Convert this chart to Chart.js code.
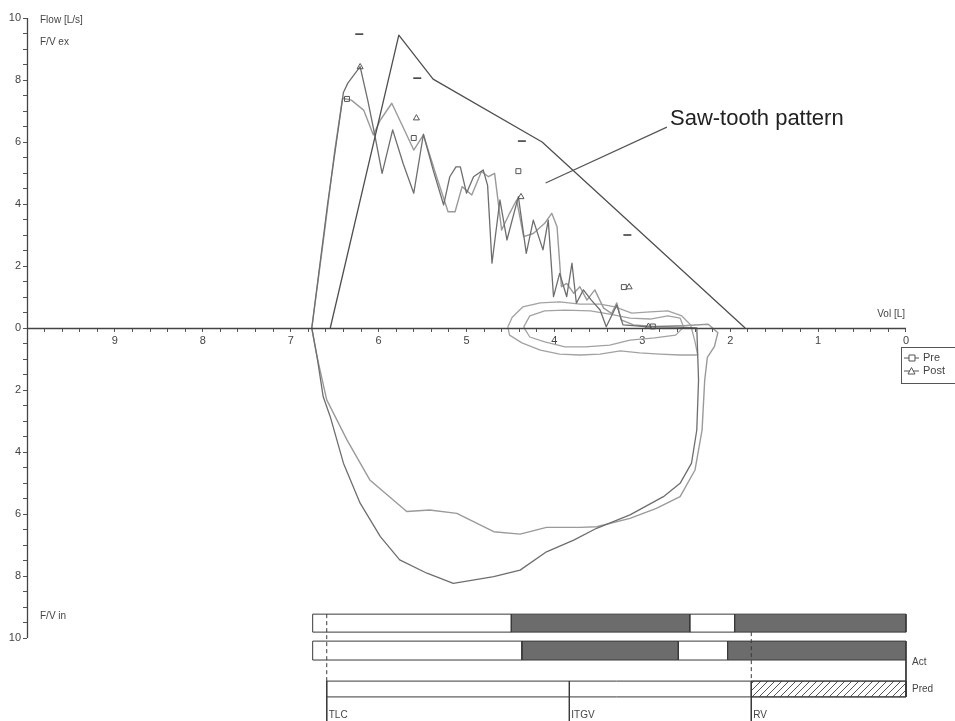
<!DOCTYPE html>
<html><head><meta charset="utf-8">
<script src="https://cdn.jsdelivr.net/npm/chart.js@4.4.0/dist/chart.umd.min.js"></script>
<style>html,body{margin:0;padding:0;background:#fff;}#wrap{position:relative;width:955px;height:721px;}</style>
</head><body><div id="wrap"><canvas id="c" width="955" height="721"></canvas></div>
<script>
// ---------- DATA ----------
const predVol  = [6.55, 5.77, 5.38, 4.14, 1.83];
const predFlow = [0, 9.45, 8.03, 6.0, 0];

const postVol  = [6.76,6.58,6.40,6.35,6.21,6.12,6.04,5.96,5.84,5.72,5.60,5.49,5.38,5.26,5.19,5.12,5.07,5.00,4.92,4.81,4.76,4.71,4.62,4.54,4.41,4.32,4.24,4.13,4.07,4.01,3.94,3.86,3.80,3.75,3.67,3.58,3.48,3.41,3.29,3.22,3.10,2.95,2.60,2.38,
                  2.36,2.38,2.44,2.57,2.76,3.14,3.52,3.78,4.09,4.39,4.69,5.15,5.45,5.76,5.98,6.21,6.40,6.55,6.63,6.70,6.76];
const postFlow = [0,4.0,7.6,7.9,8.43,7.3,6.17,4.99,6.39,5.3,4.35,6.25,5.1,3.97,4.88,5.2,5.2,4.35,4.88,5.10,4.6,2.09,4.13,2.84,4.24,2.41,3.48,2.52,3.48,1.01,1.76,1.01,2.09,0.80,1.23,0.90,0.58,0.04,0.74,0.10,0.08,0.04,0.03,0.0,
                  -1.68,-3.29,-4.36,-5.01,-5.44,-6.03,-6.46,-6.84,-7.22,-7.81,-8.02,-8.24,-7.91,-7.48,-6.73,-5.65,-4.36,-2.86,-2.22,-0.93,0];

const preVol   = [6.76,6.62,6.50,6.41,6.31,6.17,6.06,5.98,5.85,5.76,5.60,5.49,5.34,5.21,5.13,5.05,4.94,4.83,4.75,4.68,4.60,4.51,4.43,4.35,4.24,4.11,4.03,3.97,3.92,3.86,3.78,3.71,3.63,3.54,3.44,3.35,3.29,3.24,3.10,2.87,2.50,2.25,
                  2.14,2.18,2.26,2.29,2.32,2.40,2.57,2.84,3.14,3.52,3.71,4.09,4.39,4.69,4.88,5.11,5.42,5.68,6.10,6.36,6.59,6.70,6.76];
const preFlow  = [0,3.0,5.7,7.41,7.35,7.03,6.23,6.71,7.25,6.71,5.74,6.23,4.88,3.75,3.75,4.56,4.29,5.05,4.88,4.99,3.16,3.70,4.13,2.95,3.05,3.38,3.70,3.27,1.33,1.44,1.12,1.33,0.90,1.23,0.64,0.47,0.81,0.26,0.10,0.05,0.08,0.12,
                  -0.15,-0.6,-0.95,-1.68,-3.29,-4.58,-5.44,-5.82,-6.14,-6.41,-6.43,-6.43,-6.65,-6.57,-6.3,-5.98,-5.87,-5.92,-4.90,-3.61,-2.32,-0.93,0];

const tidalAVol  = [4.53,4.48,4.36,4.16,3.94,3.71,3.48,3.31,3.12,2.91,2.71,2.55,2.45,2.40,2.37,2.57,2.80,3.03,3.25,3.48,3.71,3.94,4.16,4.37,4.51,4.53];
const tidalAFlow = [0.03,0.35,0.68,0.81,0.84,0.77,0.77,0.68,0.48,0.52,0.55,0.39,0.10,-0.45,-0.87,-0.87,-0.84,-0.80,-0.74,-0.84,-0.87,-0.84,-0.71,-0.48,-0.23,0.03];
const tidalBVol  = [4.35,4.28,4.11,3.88,3.59,3.37,3.14,2.91,2.71,2.57,2.53,2.62,2.86,3.14,3.37,3.65,3.88,4.11,4.28,4.35];
const tidalBFlow = [0.03,0.39,0.55,0.58,0.55,0.45,0.32,0.29,0.39,0.32,0.03,-0.23,-0.32,-0.39,-0.55,-0.61,-0.61,-0.45,-0.29,0.03];

const predMarkVol  = [6.22, 5.56, 4.37, 3.17];
const predMarkFlow = [9.48, 8.06, 6.03, 3.0];
const preMarkVol   = [6.36, 5.60, 4.41, 3.21, 2.88];
const preMarkFlow  = [7.39, 6.13, 5.06, 1.32, 0.05];
const postMarkVol  = [6.21, 5.57, 4.38, 3.15, 2.93];
const postMarkFlow = [8.42, 6.77, 4.23, 1.32, 0.05];

// lung volume bars (volume boundaries: white, grey, white, grey)
const rowAEdges = [6.75, 4.49, 2.46, 1.95, 0];
const rowBEdges = [6.75, 4.37, 2.59, 2.03, 0];
const volMarkNames = ['TLC', 'ITGV', 'RV'];
const volMarkVols  = [6.59, 3.83, 1.76];

// ---------- LAYOUT (flow-axis levels of the bar block, styles) ----------
const LV = {aTop:-9.23, aBot:-9.81, bTop:-10.10, bBot:-10.71, pTop:-11.39, pBot:-11.90, lab:-12.48, bottom:-12.677};
const FONT = "'Liberation Sans Narrow','Liberation Sans',Arial,sans-serif";
const INK = '#3a3a3a';

const pts = (xs, ys) => xs.map((x, i) => ({x, y: ys[i]}));
const rect = (x1, x2, t, b) => [{x:x1,y:t},{x:x2,y:t},{x:x2,y:b},{x:x1,y:b},{x:x1,y:t}];

function hatch() {
  const c = document.createElement('canvas'); c.width = 7; c.height = 7;
  const g = c.getContext('2d');
  g.fillStyle = '#fff'; g.fillRect(0,0,7,7);
  g.strokeStyle = '#555'; g.lineWidth = 1;
  g.beginPath(); g.moveTo(0,7); g.lineTo(7,0); g.moveTo(-1,1); g.lineTo(1,-1); g.moveTo(6,8); g.lineTo(8,6); g.stroke();
  return g.createPattern(c, 'repeat');
}

const lineDS = (data, color, width, extra) => Object.assign({data, borderColor: color, borderWidth: width, pointRadius: 0, fill: false, tension: 0, order: 5}, extra || {});

const datasets = [];
datasets.push(lineDS(pts(predVol, predFlow), '#4f4f4f', 1.3, {order: 2}));
datasets.push(lineDS(pts(postVol, postFlow), '#6e6e6e', 1.3, {order: 3}));
datasets.push(lineDS(pts(preVol, preFlow), '#9a9a9a', 1.4, {order: 4}));
datasets.push(lineDS(pts(tidalAVol, tidalAFlow), '#a2a2a2', 1.3, {order: 4}));
datasets.push(lineDS(pts(tidalBVol, tidalBFlow), '#a2a2a2', 1.3, {order: 4}));
datasets.push({data: pts(predMarkVol, predMarkFlow), showLine: false, pointStyle: 'line', pointRadius: 4, borderColor: '#333', borderWidth: 1.5, order: 1});
datasets.push({data: pts(preMarkVol, preMarkFlow), showLine: false, pointStyle: 'rect', pointRadius: 3.5, borderColor: '#555', backgroundColor: 'rgba(255,255,255,0)', borderWidth: 1, order: 1});
datasets.push({data: pts(postMarkVol, postMarkFlow), showLine: false, pointStyle: 'triangle', pointRadius: 3.5, borderColor: '#555', backgroundColor: 'rgba(255,255,255,0)', borderWidth: 1, order: 1});
datasets.push(lineDS([{x:2.72,y:6.48},{x:4.10,y:4.68}], '#555', 1.2, {order: 1}));

function rowSegs(edges, t, b) {
  for (let i = 0; i < edges.length - 1; i++) {
    const grey = i % 2 === 1;
    datasets.push({data: rect(edges[i], edges[i+1], t, b), borderColor: INK, borderWidth: 1, pointRadius: 0,
      fill: 'shape', backgroundColor: grey ? '#6c6c6c' : '#ffffff', order: 8});
  }
}
rowSegs(rowAEdges, LV.aTop, LV.aBot);
rowSegs(rowBEdges, LV.bTop, LV.bBot);
const tlc = volMarkVols[0], rv = volMarkVols[2];
datasets.push({data: rect(rv, 0, LV.pTop, LV.pBot), borderColor: INK, borderWidth: 1, pointRadius: 0, fill: 'shape', backgroundColor: hatch(), order: 8});
datasets.push(lineDS([{x:tlc,y:LV.pTop},{x:0,y:LV.pTop}], INK, 1, {order: 6}));
datasets.push(lineDS([{x:tlc,y:LV.pBot},{x:0,y:LV.pBot}], INK, 1, {order: 6}));
datasets.push(lineDS([{x:tlc,y:LV.aTop},{x:tlc,y:LV.pTop}], INK, 1, {borderDash:[4,3], order: 6}));
datasets.push(lineDS([{x:rv,y:LV.aBot},{x:rv,y:LV.pTop}], INK, 1, {borderDash:[4,3], order: 6}));
for (const v of volMarkVols) datasets.push(lineDS([{x:v,y:LV.pTop},{x:v,y:LV.bottom}], INK, 1, {order: 6}));
datasets.push(lineDS([{x:0,y:LV.bBot},{x:0,y:LV.pBot}], INK, 1, {order: 6}));

const overlay = {
  id: 'overlay',
  afterDraw(chart) {
    const {ctx} = chart; const X = chart.scales.x, Y = chart.scales.y;
    const px = v => X.getPixelForValue(v), py = v => Y.getPixelForValue(v);
    ctx.save();
    ctx.strokeStyle = '#444'; ctx.lineWidth = 1.3;
    ctx.beginPath();
    ctx.moveTo(Math.round(px(10)) + 0.5, py(10)); ctx.lineTo(Math.round(px(10)) + 0.5, py(-10));
    ctx.moveTo(px(10), Math.round(py(0)) + 0.5); ctx.lineTo(px(0), Math.round(py(0)) + 0.5);
    ctx.stroke();
    ctx.fillStyle = '#444'; ctx.textBaseline = 'middle'; ctx.textAlign = 'left';
    ctx.font = '10px ' + FONT;
    ctx.fillText('Flow [L/s]', px(10) + 13, py(9.935));
    ctx.fillText('F/V ex', px(10) + 13, py(9.23));
    ctx.fillText('F/V in', px(10) + 13, py(-9.29));
    ctx.textAlign = 'right';
    ctx.fillText('Vol [L]', px(0) - 1, py(0.45));
    ctx.textAlign = 'left';
    ctx.fillText('Act', px(0) + 6, py(-10.77));
    ctx.fillText('Pred', px(0) + 6, py(-11.65));
    for (let i = 0; i < volMarkNames.length; i++) ctx.fillText(volMarkNames[i], px(volMarkVols[i]) + 2, py(LV.lab));
    ctx.fillStyle = '#222'; ctx.font = '22px Arial, "Liberation Sans", sans-serif';
    ctx.fillText('Saw-tooth pattern', px(2.685), py(6.74));
    const lx = px(0) - 5, ly = py(0) + 19;
    ctx.strokeStyle = '#555'; ctx.lineWidth = 1;
    ctx.strokeRect(Math.round(lx) + 0.5, Math.round(ly) + 0.5, 60, 36);
    ctx.font = '11px ' + FONT; ctx.fillStyle = '#444';
    const rows = [['Pre', 'rect'], ['Post', 'tri']];
    rows.forEach((r, i) => {
      const yy = ly + 11 + i * 13;
      ctx.beginPath(); ctx.moveTo(lx + 3, yy); ctx.lineTo(lx + 18, yy); ctx.stroke();
      ctx.beginPath();
      if (r[1] === 'rect') { ctx.rect(lx + 8, yy - 3, 6, 6); }
      else { ctx.moveTo(lx + 7, yy + 3); ctx.lineTo(lx + 10.5, yy - 3.5); ctx.lineTo(lx + 14, yy + 3); ctx.closePath(); }
      ctx.fillStyle = '#fff'; ctx.fill(); ctx.stroke();
      ctx.fillStyle = '#444'; ctx.fillText(r[0], lx + 22, yy);
    });
    ctx.restore();
  }
};

const noPad = s => { s.paddingTop = 0; s.paddingBottom = 0; s.paddingLeft = 0; s.paddingRight = 0; };

new Chart(document.getElementById('c'), {
  type: 'line',
  data: {datasets},
  options: {
    responsive: false, animation: false, devicePixelRatio: 1,
    layout: {padding: 0, autoPadding: false},
    plugins: {legend: {display: false}, tooltip: {enabled: false}},
    elements: {line: {borderJoinStyle: 'round'}},
    scales: {
      x: {
        type: 'linear', reverse: true, min: -0.5575, max: 10, position: {y: 0},
        afterFit: s => { s.height = 0; noPad(s); },
        afterBuildTicks: s => { s.ticks = []; for (let i = 0; i < 50; i++) s.ticks.push({value: +(i * 0.2).toFixed(1)}); },
        border: {display: false},
        grid: {drawOnChartArea: false, drawTicks: true, tickLength: 4, tickColor: '#555', tickWidth: 1},
        ticks: {autoSkip: false, maxRotation: 0, padding: 2, color: '#444', font: {size: 11, family: FONT},
          callback: v => Math.abs(v - Math.round(v)) < 1e-6 ? String(Math.round(v)) : ''}
      },
      y: {
        type: 'linear', min: LV.bottom, max: 10.581, position: 'left',
        afterFit: s => { s.width = 27; noPad(s); },
        afterBuildTicks: s => { s.ticks = []; for (let i = -20; i <= 20; i++) s.ticks.push({value: i * 0.5}); },
        border: {display: false},
        grid: {drawOnChartArea: false, drawTicks: true, tickLength: 4, tickColor: '#555', tickWidth: 1},
        ticks: {autoSkip: false, padding: 2, color: '#444', font: {size: 11, family: FONT},
          callback: v => (Number.isInteger(v) && v % 2 === 0) ? String(Math.abs(v)) : ''}
      }
    }
  },
  plugins: [overlay]
});
</script></body></html>
